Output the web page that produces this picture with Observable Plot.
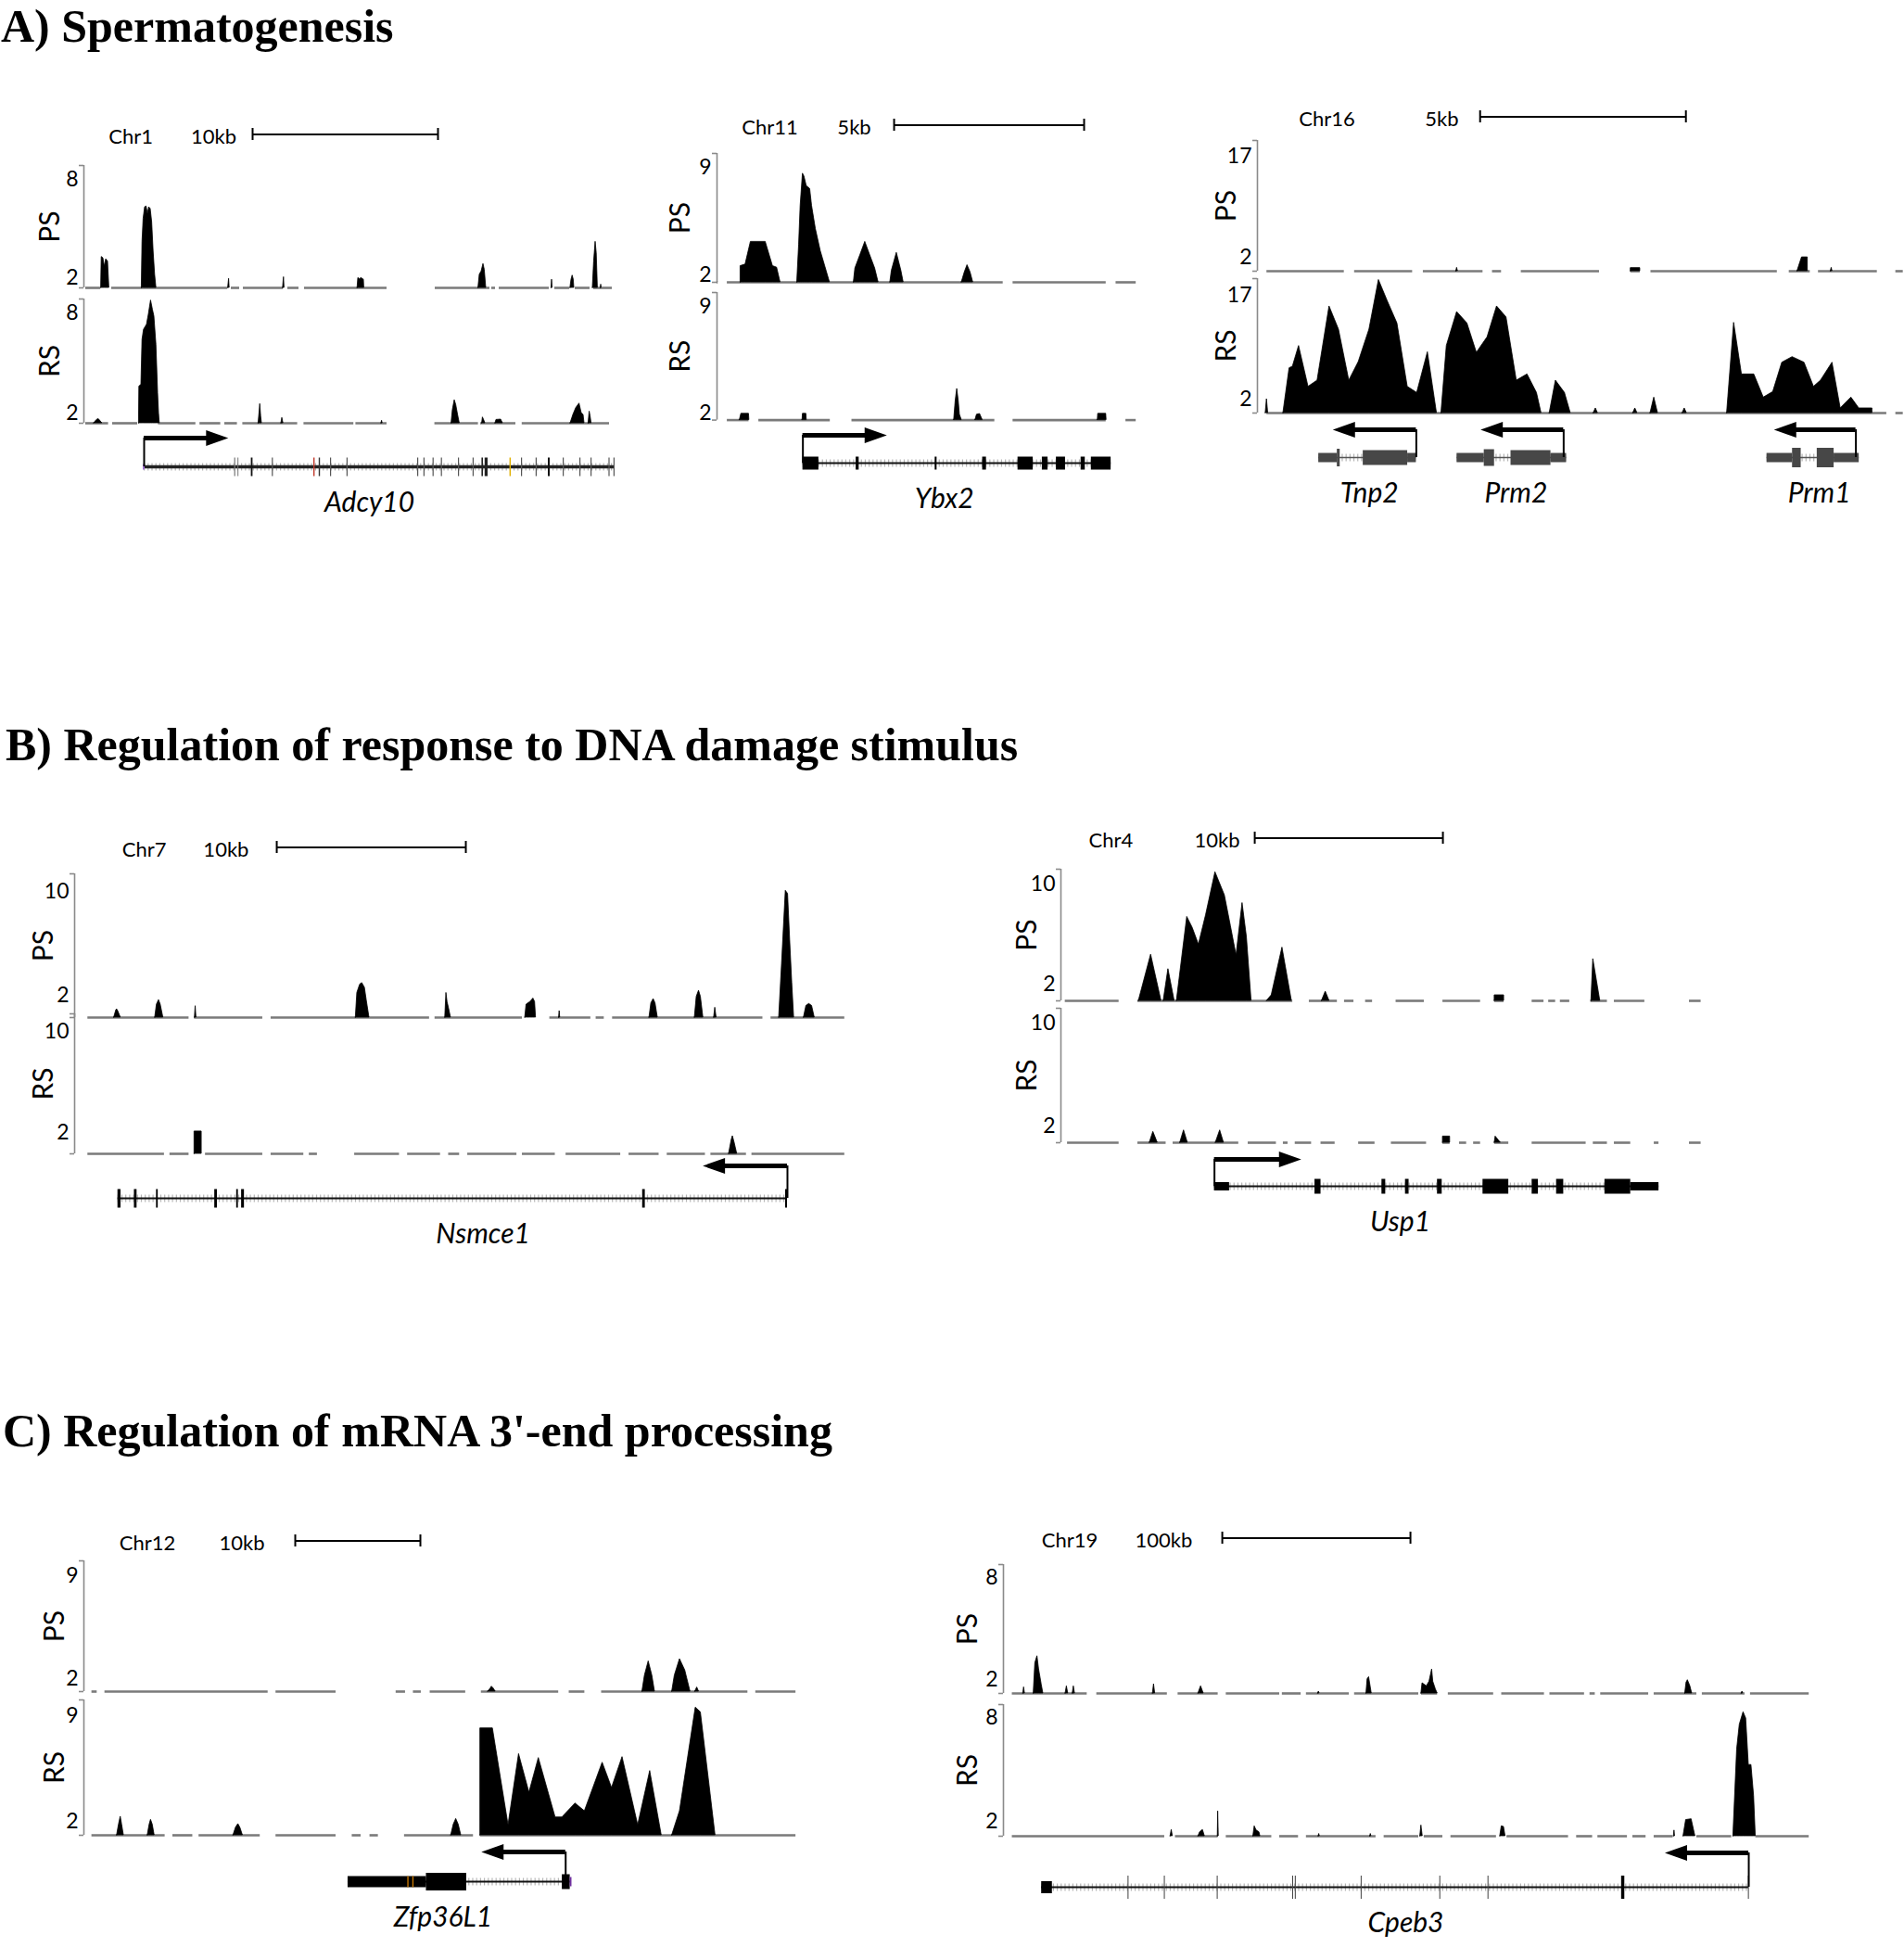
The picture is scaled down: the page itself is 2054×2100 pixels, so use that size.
<!DOCTYPE html>
<html><head><meta charset="utf-8">
<script src="https://cdn.jsdelivr.net/npm/d3@7"></script>
<script src="https://cdn.jsdelivr.net/npm/@observablehq/plot@0.6"></script>
<style>
html,body{margin:0;padding:0;background:#fff;}
#page{position:relative;width:2054px;height:2100px;background:#fff;overflow:hidden;}
.title{position:absolute;font-family:"Liberation Serif","Times New Roman",serif;font-weight:bold;font-size:50px;line-height:56px;white-space:nowrap;color:#000;}
.pl{position:absolute;}
.pl svg{overflow:visible;display:block;max-width:none;}
</style></head><body><div id="page"></div>
<script>
// ===================== DATA (positions in kb from left edge of each browser view; signal values in track units) =====================
const titles = ["A) Spermatogenesis", "B) Regulation of response to DNA damage stimulus", "C) Regulation of mRNA 3'-end processing"];

// ---- Adcy10 (Chr1) ----
const adcy10_PS = [
 [0.93,0, 0.96,3.28, 1.05,3.2, 1.12,2.7, 1.2,3.14, 1.3,3.0, 1.37,0],
 [3.12,0, 3.16,4.2, 3.22,5.6, 3.3,6.3, 3.38,6.35, 3.45,5.9, 3.52,6.3, 3.6,6.2, 3.68,5.4, 3.76,3.6, 3.84,2.2, 3.91,0],
 [7.78,0, 7.83,1.95, 7.86,0],
 [10.74,0, 10.79,2.05, 10.82,0],
 [14.76,0, 14.8,2.0, 14.9,1.9, 14.95,2.0, 15.1,1.9, 15.12,0],
 [21.28,0, 21.35,2.2, 21.45,2.4, 21.55,2.85, 21.62,2.5, 21.7,0],
 [25.22,0, 25.25,1.9, 25.28,0],
 [26.24,0, 26.3,1.9, 26.36,2.15, 26.42,1.9, 26.45,0],
 [27.45,0, 27.52,3.0, 27.6,4.2, 27.66,3.5, 27.72,0],
 [27.88,0, 27.9,1.6, 27.92,0]
];
const adcy10_RS = [
 [0.55,0, 0.7,1.6, 0.8,1.65, 0.99,0],
 [2.97,0, 2.99,3.6, 3.1,3.7, 3.16,6.4, 3.24,7.0, 3.4,7.3, 3.5,7.9, 3.62,8.75, 3.72,8.2, 3.8,7.8, 3.91,6.1, 4.0,3.2, 4.05,2.0, 4.09,0],
 [9.42,0, 9.47,2.0, 9.51,2.55, 9.56,1.8, 9.6,0],
 [10.65,0, 10.7,1.72, 10.76,0],
 [16.05,0, 16.08,1.55, 16.11,0],
 [19.83,0, 19.9,2.2, 20.0,2.78, 20.08,2.5, 20.18,1.9, 20.27,0],
 [21.48,0, 21.52,1.75, 21.6,1.55, 21.65,0],
 [22.2,0, 22.25,1.6, 22.5,1.62, 22.6,0],
 [26.25,0, 26.4,1.9, 26.55,2.3, 26.73,2.58, 26.85,2.0, 26.95,1.9, 27.0,0],
 [27.22,0, 27.28,2.1, 27.33,1.8, 27.38,0]
];
const adcy10_PScov = [[0.1,0.9],[1.5,7.75],[7.95,8.4],[8.6,10.75],[11.0,11.6],[11.9,16.35],[18.95,21.9],[22.0,22.2],[22.4,25.1],[25.4,26.2],[26.5,27.3],[27.5,28.5]];
const adcy10_RScov = [[0.1,1.33],[1.55,2.9],[4.02,6.04],[6.26,7.38],[7.6,8.28],[8.57,11.53],[11.87,14.56],[14.67,16.35],[18.93,21.28],[21.4,23.3],[23.64,28.35]];
const adcy10_exons = [[3.2,3.3,6,"#a070d0"],[8.13,8.19,20,"#777"],[8.31,8.36,20,"#777"],[9.03,9.12,20,"#111"],[10.16,10.22,20,"#555"],[12.4,12.47,20,"#c0392b"],[12.69,12.76,20,"#333"],[13.3,13.36,20,"#555"],[14.19,14.25,20,"#555"],[18.0,18.06,20,"#555"],[18.34,18.4,20,"#555"],[18.83,18.89,20,"#555"],[19.28,19.34,20,"#555"],[20.2,20.26,20,"#555"],[20.99,21.05,20,"#555"],[21.47,21.55,20,"#222"],[21.64,21.8,20,"#222"],[22.98,23.05,20,"#e0b000"],[23.6,23.66,20,"#555"],[24.39,24.45,20,"#555"],[25.05,25.15,20,"#111"],[25.85,25.91,20,"#555"],[26.75,26.81,20,"#555"],[27.35,27.41,20,"#555"],[28.32,28.38,20,"#555"],[28.59,28.65,20,"#555"]];
const adcy10_genes = [{name:"Adcy10", start:3.25, end:28.65, tss:3.25, tip:7.79, strand:1, labelX:15.4}];

// ---- Ybx2 (Chr11) ----
const ybx2_PS = [
 [0.62,0, 0.62,2.6, 0.75,2.7, 0.89,4.17, 1.28,4.17, 1.47,2.6, 1.58,2.5, 1.67,0],
 [2.11,0, 2.16,4.0, 2.2,6.5, 2.26,8.59, 2.3,8.4, 2.36,7.79, 2.45,7.6, 2.5,6.5, 2.6,5.0, 2.73,3.56, 2.85,2.56, 2.97,0],
 [3.6,0, 3.64,2.45, 3.77,3.3, 3.9,4.17, 4.03,3.3, 4.16,2.45, 4.25,0],
 [4.56,0, 4.6,2.3, 4.73,3.46, 4.85,2.3, 4.91,0],
 [6.44,0, 6.52,2.2, 6.59,2.66, 6.67,2.2, 6.74,0]
];
const ybx2_RS = [
 [0.6,0, 0.64,1.96, 0.84,1.96, 0.85,0],
 [2.25,0, 2.26,1.96, 2.35,1.96, 2.36,0],
 [6.24,0, 6.28,2.8, 6.32,3.59, 6.36,2.8, 6.39,1.9, 6.44,0],
 [6.8,0, 6.84,1.9, 6.92,1.95, 6.99,0],
 [10.02,0, 10.03,1.96, 10.24,1.96, 10.25,0]
];
const ybx2_PScov = [[0.0,0.03],[0.27,7.53],[7.79,10.24],[10.5,11.03]];
const ybx2_RScov = [[0.27,0.84],[1.1,2.98],[3.55,7.31],[7.79,10.24],[10.76,11.03]];
const ybx2_exons = [[2.26,2.68,14],[3.66,3.74,14],[5.74,5.79,14],[6.99,7.09,14],[7.92,8.32,14],[8.56,8.71,14],[8.93,9.17,14],[9.58,9.69,14],[9.85,10.37,14]];
const ybx2_genes = [{name:"Ybx2", start:2.26, end:10.37, tss:2.26, tip:4.47, strand:1, labelX:5.98}];

// ---- Tnp2 / Prm2 / Prm1 (Chr16) ----
const chr16_PS = [
 [4.83,0, 4.85,0.5, 4.87,0],
 [9.07,0, 9.07,0.46, 9.3,0.46, 9.3,0],
 [13.12,0, 13.23,2.05, 13.37,2.05, 13.37,0],
 [13.93,0, 13.95,0.5, 13.97,0]
];
const chr16_RS = [
 [0.2,0, 0.23,2.0, 0.26,0],
 [0.63,0, 0.78,6.47, 0.86,6.69, 1.01,9.68, 1.24,3.79, 1.46,4.68, 1.75,15.39, 1.98,12.04, 2.23,4.68, 2.46,7.36, 2.72,12.04, 2.95,19.2, 3.17,16.06, 3.4,12.93, 3.65,3.79, 3.88,2.9, 4.14,8.78, 4.36,0],
 [4.47,0, 4.6,9.68, 4.85,14.58, 5.1,12.93, 5.33,8.7, 5.59,10.93, 5.82,15.39, 6.05,13.82, 6.3,4.68, 6.56,5.57, 6.79,2.9, 6.9,0],
 [7.1,0, 7.25,4.68, 7.47,2.9, 7.61,0],
 [8.17,0, 8.22,0.67, 8.27,0],
 [9.13,0, 9.18,0.67, 9.23,0],
 [9.55,0, 9.64,2.23, 9.73,0],
 [10.33,0, 10.38,0.67, 10.43,0],
 [11.41,0, 11.58,13.02, 11.77,5.57, 12.07,5.57, 12.3,2.23, 12.53,3.03, 12.75,7.27, 13.0,8.07, 13.29,7.27, 13.52,3.79, 13.69,4.68, 13.97,7.27, 14.17,0.67, 14.43,2.23, 14.62,0.67, 14.94,0.67, 14.94,0]
];
const chr16_PScov = [[0.23,2.11],[2.36,3.77],[4.03,5.48],[5.71,5.93],[6.41,8.31],[9.07,9.3],[9.56,12.63],[12.92,13.43],[13.63,15.06],[15.51,15.69]];
const chr16_RScov = [[0.23,15.29],[15.51,15.69]];
const chr16_exons = [
 [1.49,1.94,10],[1.94,2.01,19],[2.57,3.65,16],[3.65,3.86,10],
 [4.85,5.51,10],[5.51,5.76,18],[6.16,7.13,16],[7.13,7.51,10],
 [12.38,13.0,10],[13.0,13.21,21],[13.6,14.01,21],[14.01,14.62,10]
];
const chr16_genes = [
 {name:"Tnp2", start:1.49, end:3.86, tss:3.86, tip:1.83, strand:-1, labelX:2.72},
 {name:"Prm2", start:4.85, end:7.51, tss:7.44, tip:5.42, strand:-1, labelX:6.28},
 {name:"Prm1", start:12.38, end:14.62, tss:14.54, tip:12.55, strand:-1, labelX:13.65}
];

// ---- Nsmce1 (Chr7) ----
const nsmce1_PS = [
 [2.09,0, 2.2,0.85, 2.24,0.94, 2.3,0.8, 2.44,0],
 [4.26,0, 4.35,1.3, 4.46,1.65, 4.55,1.3, 4.69,0],
 [6.36,0, 6.4,1.18, 6.44,0],
 [14.87,0, 14.95,2.2, 15.1,2.85, 15.21,2.96, 15.35,2.6, 15.45,1.6, 15.59,0],
 [19.6,0, 19.66,2.2, 19.72,1.5, 19.8,1.0, 19.9,0],
 [23.83,0, 23.9,1.3, 24.1,1.5, 24.26,1.77, 24.35,1.5, 24.4,0],
 [25.62,0, 25.65,0.8, 25.68,0],
 [30.4,0, 30.5,1.4, 30.62,1.73, 30.72,1.4, 30.84,0],
 [32.8,0, 32.9,1.9, 33.02,2.37, 33.12,1.9, 33.25,0],
 [33.82,0, 33.88,1.06, 33.95,0],
 [37.26,0, 37.41,4.39, 37.61,10.09, 37.73,9.85, 37.84,6.3, 37.95,3.0, 38.05,0],
 [38.57,0, 38.7,1.2, 38.85,1.35, 39.0,1.2, 39.14,0]
];
const nsmce1_RS = [
 [6.34,0, 6.34,2.07, 6.72,2.07, 6.72,0],
 [34.61,0, 34.75,1.4, 34.81,1.7, 34.9,1.2, 35.04,0]
];
const nsmce1_PScov = [[0.7,6.05],[6.34,9.95],[10.39,18.77],[19.06,23.68],[25.13,27.3],[27.58,28.01],[28.45,36.4],[36.83,40.73]];
const nsmce1_RScov = [[0.7,4.75],[5.04,6.05],[6.92,9.95],[10.39,12.12],[12.41,12.84],[14.81,17.18],[17.61,19.35],[19.78,20.36],[20.79,23.39],[23.68,25.42],[25.99,28.88],[29.32,30.91],[31.34,33.36],[33.65,35.53],[35.82,40.73]];
const nsmce1_exons = [[2.29,2.45,20],[3.16,3.3,20],[4.33,4.42,20],[7.41,7.55,20],[8.57,8.66,20],[8.83,8.98,20],[30.04,30.18,20],[37.6,37.7,20]];
const nsmce1_genes = [{name:"Nsmce1", start:2.29, end:37.7, tss:37.7, tip:33.22, strand:-1, labelX:21.6}];

// ---- Usp1 (Chr4) ----
const usp1_PS = [
 [4.14,0, 4.79,4.37, 5.34,0],
 [5.46,0, 5.71,3.22, 6.04,0],
 [6.16,0, 6.71,7.37, 7.0,6.5, 7.33,5.17, 7.71,7.49, 8.21,10.92, 8.71,9.08, 9.03,6.64, 9.33,4.32, 9.65,8.47, 9.88,5.78, 10.13,0],
 [10.95,0, 11.2,1.14, 11.77,4.93, 12.27,0],
 [13.87,0, 14.07,1.43, 14.27,0],
 [23.05,0, 23.05,1.14, 23.55,1.14, 23.55,0],
 [28.19,0, 28.29,4.02, 28.66,0]
];
const usp1_RS = [
 [4.72,0, 4.91,1.54, 5.14,0],
 [6.34,0, 6.54,1.66, 6.74,0],
 [8.23,0, 8.46,1.66, 8.66,0],
 [20.3,0, 20.3,1.18, 20.68,1.18, 20.68,0],
 [23.05,0, 23.1,1.18, 23.37,0]
];
const usp1_PScov = [[0.23,3.09],[4.09,12.32],[13.2,14.69],[15.07,15.57],[16.19,16.56],[17.81,19.31],[20.3,22.3],[23.05,23.55],[25.04,25.67],[25.92,26.29],[26.54,27.04],[28.16,29.04],[29.41,31.03],[33.4,34.02]];
const usp1_RScov = [[0.35,3.09],[4.09,5.59],[5.96,9.45],[9.95,11.45],[11.82,12.07],[12.45,13.32],[13.82,14.57],[15.82,16.69],[17.56,19.43],[20.3,20.68],[21.18,21.56],[21.93,22.3],[23.05,23.8],[25.04,27.91],[28.29,29.04],[29.41,30.28],[31.53,31.78],[33.4,34.02]];
const usp1_exons = [[8.16,8.96,9],[13.5,13.82,16],[17.06,17.26,16],[18.31,18.5,16],[20.01,20.26,16],[22.43,23.8,16],[25.04,25.37,16],[26.34,26.72,16],[28.91,30.28,16],[30.28,31.78,9]];
const usp1_genes = [{name:"Usp1", start:8.16, end:31.78, tss:8.16, tip:12.77, strand:1, labelX:18.03}];

// ---- Zfp36L1 (Chr12) ----
const zfp_PS = [
 [32.3,0, 32.5,1.3, 32.6,1.44, 32.75,1.3, 32.9,0],
 [44.63,0, 44.83,2.2, 45.13,3.17, 45.42,2.2, 45.63,0],
 [47.01,0, 47.22,2.2, 47.63,3.32, 48.05,2.55, 48.47,0],
 [48.85,0, 49.01,1.38, 49.15,0]
];
const zfp_RS = [
 [2.65,0, 2.8,1.8, 2.94,2.33, 3.05,1.8, 3.19,0],
 [5.1,0, 5.25,1.8, 5.36,2.12, 5.5,1.8, 5.65,0],
 [11.95,0, 12.15,1.6, 12.34,1.84, 12.5,1.6, 12.7,0],
 [29.35,0, 29.55,1.8, 29.75,2.18, 29.95,1.8, 30.15,0],
 [31.68,0, 31.68,8.17, 32.68,8.17, 33.93,1.77, 34.77,6.47, 35.6,3.92, 36.35,6.21, 37.69,2.28, 38.23,2.28, 39.28,3.2, 40.03,2.69, 41.45,5.9, 42.2,4.23, 43.04,6.27, 44.29,1.77, 45.25,5.35, 46.17,0],
 [47.01,0, 47.63,2.69, 48.89,9.54, 49.3,9.23, 50.47,0]
];
const zfp_PScov = [[0.64,1.06],[1.68,14.72],[15.35,20.15],[24.95,25.7],[26.33,26.96],[27.67,30.51],[31.76,37.94],[38.78,40.03],[41.37,53.06],[53.69,56.9]];
const zfp_RScov = [[0.64,6.49],[7.11,8.7],[9.2,14.09],[15.35,20.15],[21.44,22.15],[22.86,23.53],[25.62,31.13],[31.68,56.9]];
const zfp_exons = [[21.11,27.37,12],[27.37,30.59,19],[38.23,38.86,16],[25.88,25.98,12,"#c87800"],[26.28,26.38,12,"#c87800"],[38.86,39.0,10,"#7030a0"]];
const zfp_genes = [{name:"Zfp36L1", start:21.11, end:38.86, tss:38.5, tip:31.76, strand:-1, labelX:28.7}];

// ---- Cpeb3 (Chr19) ----
const cpeb3_PS = [
 [10.5,0, 10.95,1.53, 11.4,0],
 [16.07,0, 16.92,2.95, 18.05,3.36, 18.91,2.59, 20.33,1.68, 21.18,0],
 [33.0,0, 33.69,1.59, 34.4,0],
 [36.8,0, 37.38,1.59, 38.0,0],
 [79.4,0, 80.0,1.71, 80.6,0],
 [103.6,0, 105.0,1.59, 106.4,0],
 [167.2,0, 167.6,1.28, 168.0,0],
 [192.9,0, 193.5,2.0, 194.3,2.13, 195.7,0],
 [222.1,0, 222.7,1.77, 225.0,1.59, 226.4,1.86, 227.8,2.58, 228.4,1.86, 229.8,1.4, 230.7,0],
 [362.3,0, 363.0,1.8, 363.7,1.95, 365.0,1.6, 366.0,0],
 [392.3,0, 392.7,1.28, 393.1,0]
];
const cpeb3_RS = [
 [88.8,0, 89.4,1.53, 90.0,0],
 [103.6,0, 104.5,1.4, 106.0,1.53, 107.0,0],
 [113.9,0, 114.1,2.6, 114.4,0],
 [132.8,0, 133.5,1.74, 134.5,1.5, 136.0,1.4, 136.5,0],
 [167.5,0, 167.8,1.3, 168.1,0],
 [194.9,0, 195.2,1.3, 195.5,0],
 [221.5,0, 222.1,1.79, 222.8,0],
 [264.0,0, 264.8,1.74, 266.0,1.7, 266.8,0],
 [356.3,0, 356.6,1.5, 356.9,0],
 [361.4,0, 362.8,2.1, 365.7,2.15, 367.7,0],
 [387.9,0, 389.9,6.17, 391.3,7.59, 393.3,8.31, 394.7,7.95, 396.1,5.27, 397.5,5.27, 398.9,3.49, 399.8,0]
];
const cpeb3_PScov = [[4.7,44.5],[49.6,87.1],[92.8,114.1],[118.4,146.8],[148.2,158.2],[161,183.8],[186.6,220.7],[222.1,230.7],[236.4,260.5],[264.8,287.5],[290.4,308.8],[311.7,314.5],[317.4,342.9],[345.8,368.5],[371.4,394.1],[397,428.2]];
const cpeb3_RScov = [[4.7,85.7],[91.4,114.1],[118.4,142.6],[146.8,156.8],[161,198],[202.3,220.7],[223.6,233.5],[237.8,262],[267.6,300.3],[304.6,313.1],[315.9,331.6],[334.5,341.5],[345.8,355.9],[368.5,387],[399.8,428.2]];
const cpeb3_exons = [[20.3,26.0,13],[66.2,66.7,25,"#444"],[85.5,86.0,25,"#444"],[113.6,114.1,25,"#444"],[153.7,154.2,25,"#444"],[155.1,155.6,25,"#444"],[190.1,190.6,25,"#444"],[231.9,232.4,25,"#444"],[257.5,258.0,25,"#444"],[328.5,330.2,25,"#000"],[395.9,396.4,25,"#444"]];
const cpeb3_genes = [{name:"Cpeb3", start:20.3, end:396.1, tss:396.1, tip:351.5, strand:-1, labelX:213.8}];

// ===================== LAYOUT =====================
const panels = [
 {x0:90,  x1:663,  L:28.65, lo:1.4,  hi:8.84,  max:8,  head:144,  ps:[178,310],   rs:[322,456],   arrowY:472,  modelY:503,  labDx:36, chr:"Chr1",  chrX:2.53, scaleText:"10kb",  scaleX:7.0,  bar:[9.1,10],
  PS:adcy10_PS, RS:adcy10_RS, PScov:adcy10_PScov, RScov:adcy10_RScov, exons:adcy10_exons, genes:adcy10_genes, lineW:3.5, lineColor:"#222", exonColor:"#555"},
 {x0:773, x1:1226, L:11.05, lo:1.55, hi:9.9,   max:9,  head:134,  ps:[165,304],   rs:[315,452.6], arrowY:469,  modelY:499,  labDx:39, chr:"Chr11", chrX:1.39, scaleText:"5kb",   scaleX:3.61, bar:[4.66,5],
  PS:ybx2_PS, RS:ybx2_RS, PScov:ybx2_PScov, RScov:ybx2_RScov, exons:ybx2_exons, genes:ybx2_genes, lineW:2, lineColor:"#111", exonColor:"#000"},
 {x0:1356,x1:2054, L:15.72, lo:0,    hi:19.4,  max:17, head:125,  ps:[151,292],   rs:[300,445],   arrowY:463,  modelY:493,  labDx:33, chr:"Chr16", chrX:1.69, scaleText:"5kb",   scaleX:4.48, bar:[5.41,5],
  PS:chr16_PS, RS:chr16_RS, PScov:chr16_PScov, RScov:chr16_RScov, exons:chr16_exons, genes:chr16_genes, lineW:1.5, lineColor:"#555", exonColor:"#474747"},
 {x0:80,  x1:911,  L:40.74, lo:0.3,  hi:11.4,  max:10, head:913,  ps:[942,1097],  rs:[1093,1244], arrowY:1257, modelY:1292, labDx:33, chr:"Chr7",  chrX:3.68, scaleText:"10kb",  scaleX:8.01, bar:[10.69,10],
  PS:nsmce1_PS, RS:nsmce1_RS, PScov:nsmce1_PScov, RScov:nsmce1_RScov, exons:nsmce1_exons, genes:nsmce1_genes, lineW:2, lineColor:"#111", exonColor:"#000"},
 {x0:1144,x1:1835, L:34.04, lo:0.7,  hi:11.16, max:10, head:903,  ps:[937,1079],  rs:[1087,1232], arrowY:1250, modelY:1279, labDx:36, chr:"Chr4",  chrX:2.66, scaleText:"10kb",  scaleX:8.3,  bar:[10.3,10],
  PS:usp1_PS, RS:usp1_RS, PScov:usp1_PScov, RScov:usp1_RScov, exons:usp1_exons, genes:usp1_genes, lineW:2, lineColor:"#111", exonColor:"#000"},
 {x0:90,  x1:858,  L:56.89, lo:1.1,  hi:10.05, max:9,  head:1661, ps:[1683,1824], rs:[1833,1979], arrowY:1997, modelY:2029, labDx:31, chr:"Chr12", chrX:5.07, scaleText:"10kb",  scaleX:12.63,bar:[16.89,10],
  PS:zfp_PS, RS:zfp_RS, PScov:zfp_PScov, RScov:zfp_RScov, exons:zfp_exons, genes:zfp_genes, lineW:2, lineColor:"#111", exonColor:"#000"},
 {x0:1082,x1:1951, L:428.1, lo:1.17, hi:8.75,  max:8,  head:1658, ps:[1687,1826], rs:[1838,1980], arrowY:1998, modelY:2035, labDx:38, chr:"Chr19", chrX:35.2, scaleText:"100kb", scaleX:85.2, bar:[116.3,100],
  PS:cpeb3_PS, RS:cpeb3_RS, PScov:cpeb3_PScov, RScov:cpeb3_RScov, exons:cpeb3_exons, genes:cpeb3_genes, lineW:2, lineColor:"#111", exonColor:"#000"}
];
const titlePos = [[1,0],[6,775],[3,1515]];

// ===================== RENDER =====================
const page = document.getElementById("page");
const FONT = "Lato, 'Open Sans', 'DejaVu Sans', sans-serif";
const ML = 80, MR = 8;

function place(svg, left, top) {
  const d = document.createElement("div");
  d.className = "pl";
  d.style.left = left + "px";
  d.style.top = top + "px";
  svg.style.maxWidth = "none";
  svg.style.overflow = "visible";
  d.appendChild(svg);
  page.appendChild(d);
}
function toPts(segs) {
  const out = [];
  segs.forEach((s, i) => { for (let k = 0; k < s.length; k += 2) out.push({x: s[k], v: s[k + 1], seg: i}); });
  return out;
}
const headRight = {draw(ctx) { ctx.moveTo(12, 0); ctx.lineTo(-12, -8.5); ctx.lineTo(-12, 8.5); ctx.closePath(); }};
const headLeft  = {draw(ctx) { ctx.moveTo(-12, 0); ctx.lineTo(12, -8.5); ctx.lineTo(12, 8.5); ctx.closePath(); }};

titles.forEach((t, i) => {
  const d = document.createElement("div");
  d.className = "title";
  d.textContent = t;
  d.style.left = titlePos[i][0] + "px";
  d.style.top = titlePos[i][1] + "px";
  page.appendChild(d);
});

function header(p) {
  const W = p.x1 - p.x0, mT = 20, mB = 20, hh = 13;
  const svg = Plot.plot({
    width: W + ML + MR, height: hh + mT + mB,
    marginLeft: ML, marginRight: MR, marginTop: mT, marginBottom: mB,
    style: {fontFamily: FONT, fontSize: "22px", color: "#000", background: "transparent"},
    x: {domain: [0, p.L], axis: null},
    y: {domain: [-1, 1], axis: null},
    marks: [
      Plot.ruleY([p.bar], {x1: d => d[0], x2: d => d[0] + d[1], y: 0, stroke: "#000", strokeWidth: 2}),
      Plot.tickX([p.bar[0], p.bar[0] + p.bar[1]], {stroke: "#000", strokeWidth: 2}),
      Plot.text([p.chr], {x: p.chrX, text: d => d, fontSize: 22, dy: 3, fill: "#000"}),
      Plot.text([p.scaleText], {x: p.scaleX, text: d => d, fontSize: 22, dy: 3, fill: "#000"})
    ]
  });
  place(svg, p.x0 - ML, p.head - hh / 2 - mT);
}

function track(p, name) {
  const [top, base] = p[name === "PS" ? "ps" : "rs"];
  const W = p.x1 - p.x0, H = base - top, mT = 8, mB = 8;
  const eps = 5 * p.L / W;
  const svg = Plot.plot({
    width: W + ML + MR, height: H + mT + mB,
    marginLeft: ML, marginRight: MR, marginTop: mT, marginBottom: mB,
    style: {fontFamily: FONT, fontSize: "23px", color: "#000", background: "transparent"},
    x: {domain: [0, p.L], axis: null},
    y: {domain: [p.lo, p.hi], clamp: true, axis: null},
    marks: [
      Plot.text([2, p.max], {y: d => d, text: d => String(d), frameAnchor: "left", textAnchor: "end", dx: -6, fontSize: 23, fill: "#000"}),
      Plot.ruleX([0], {y1: p.lo, y2: p.hi, stroke: "#8a8a8a", strokeWidth: 1.6}),
      Plot.ruleY([p.lo, p.hi], {x1: -eps, x2: 0, stroke: "#8a8a8a", strokeWidth: 1.6}),
      Plot.ruleY(p[name + "cov"], {x1: d => d[0], x2: d => d[1], y: 0, stroke: "#7a7a7a", strokeWidth: 2.6}),
      Plot.areaY(toPts(p[name]), {x: "x", y1: 0, y2: "v", z: "seg", fill: "#000", stroke: "#000", strokeWidth: 0.8}),
      Plot.text([name], {text: d => d, frameAnchor: "left", textAnchor: "middle", rotate: -90, dx: -p.labDx, fontSize: 30, fill: "#000"})
    ]
  });
  place(svg, p.x0 - ML, top - mT);
}

function gene(p) {
  const W = p.x1 - p.x0, gap = p.modelY - p.arrowY, mT = 20, mB = 80;
  const k = W / p.L;
  const genes = p.genes;
  const svg = Plot.plot({
    width: W + ML + MR, height: gap + mT + mB,
    marginLeft: ML, marginRight: MR, marginTop: mT, marginBottom: mB,
    style: {fontFamily: FONT, fontSize: "22px", color: "#000", background: "transparent"},
    x: {domain: [0, p.L], axis: null},
    y: {domain: [0, 1], axis: null},
    marks: [
      Plot.ruleY(genes, {x1: "start", x2: "end", y: 0, stroke: "#b5b5b5", strokeWidth: 8, strokeDasharray: "1.2,3"}),
      Plot.ruleY(genes, {x1: "start", x2: "end", y: 0, stroke: p.lineColor, strokeWidth: p.lineW}),
      Plot.ruleY(p.exons, {x1: d => d[0], x2: d => d[1], y: 0, stroke: d => d[3] || p.exonColor, strokeWidth: d => d[2]}),
      Plot.ruleX(genes, {x: "tss", y1: 0, y2: 1, stroke: "#000", strokeWidth: 2}),
      Plot.ruleY(genes, {x1: "tss", x2: d => d.tip - d.strand * 12 / k, y: 1, stroke: "#000", strokeWidth: 5}),
      Plot.dot(genes.filter(g => g.strand > 0), {x: "tip", y: 1, symbol: headRight, r: 10, fill: "#000", stroke: "none", dx: -12}),
      Plot.dot(genes.filter(g => g.strand < 0), {x: "tip", y: 1, symbol: headLeft, r: 10, fill: "#000", stroke: "none", dx: 12}),
      Plot.text(genes, {x: "labelX", text: "name", frameAnchor: "bottom", dy: 48, fontSize: 30, fontStyle: "italic", fill: "#000"})
    ]
  });
  place(svg, p.x0 - ML, p.arrowY - mT);
}

panels.forEach(p => {
  header(p);
  track(p, "PS");
  track(p, "RS");
  gene(p);
});
</script></body></html>
